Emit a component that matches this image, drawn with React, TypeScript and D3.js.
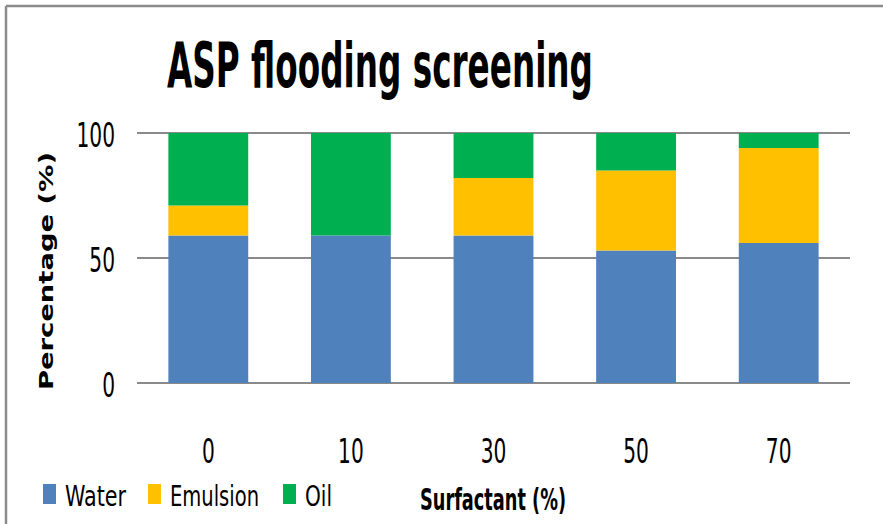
import React from 'react';
import * as d3 from 'd3';

// surfactant concentration categories
const categories = ['0', '10', '30', '50', '70'];
const seriesNames = ['Water', 'Emulsion', 'Oil'];
const water = [59, 59, 59, 53, 56];
const emulsion = [12, 0, 23, 32, 38];
const oil = [29, 41, 18, 15, 6];
const yTicks = [0, 50, 100];
const colors = ['#4F81BD', '#FFC000', '#00B050'];

const W = 883;
const H = 524;
const narrow = '"DejaVu Sans Condensed", "Liberation Sans Narrow", Arial, sans-serif';

// narrow text: squeezed horizontally like the original Calibri
const NText = ({ x, y, sx = 0.68, anchor = 'start', size = 33, weight = 'normal', children }: any) => (
  <text transform={`translate(${x},${y}) scale(${sx},1)`} textAnchor={anchor}
    fontFamily={narrow} fontSize={size} fontWeight={weight} fill="#000">{children}</text>
);

const App = () => {
  const rows = categories.map((c, i) => ({
    cat: c,
    Water: water[i],
    Emulsion: emulsion[i],
    Oil: oil[i],
  }));

  const x = d3.scaleBand()
    .domain(categories)
    .range([137, 850])
    .paddingInner(0.44)
    .paddingOuter(0.22);

  const y = d3.scaleLinear()
    .domain([0, 100])
    .range([383, 133]);

  const stacked = d3.stack().keys(seriesNames)(rows as any);

  // legend layout (x of swatch, text width)
  const legendX = [43, 148, 283];
  const legendW = [61, 89, 27];

  return (
    <svg width={W} height={H} style={{ position: 'absolute', left: 0, top: 0, background: '#fff' }}>
      {/* frame */}
      <line x1={6} x2={W} y1={6} y2={6} stroke="#8c8c8c" strokeWidth={2.5} />
      <line x1={6} x2={6} y1={6} y2={H} stroke="#8c8c8c" strokeWidth={2.5} />

      <text x={167} y={87} fontFamily={narrow} fontWeight="bold" fontSize={62}
        textLength={426} lengthAdjust="spacingAndGlyphs" fill="#000">
        ASP flooding screening
      </text>

      {/* gridlines */}
      {yTicks.map(t => (
        <line key={t} x1={137} x2={850} y1={y(t)} y2={y(t)} stroke="#8a8a8a" strokeWidth={1.8} />
      ))}

      {/* bars */}
      {stacked.map((s, si) => (
        <g key={s.key} fill={colors[si]}>
          {s.map((d, i) => (
            <rect key={i}
              x={x(categories[i])}
              y={y(d[1])}
              width={x.bandwidth()}
              height={y(d[0]) - y(d[1])} />
          ))}
        </g>
      ))}

      {/* y tick labels */}
      {yTicks.map(t => (
        <NText key={t} x={115} y={y(t) + 14} anchor="end">{t}</NText>
      ))}

      {/* x tick labels */}
      {categories.map(c => (
        <NText key={c} x={(x(c) as number) + x.bandwidth() / 2} y={463} anchor="middle">{c}</NText>
      ))}

      <text transform="translate(53,271) rotate(-90)" textAnchor="middle"
        fontFamily='"DejaVu Sans", Verdana, sans-serif' fontWeight="bold" fontSize={19}
        textLength={238} lengthAdjust="spacingAndGlyphs" fill="#000">
        Percentage (%)
      </text>

      {/* legend */}
      {seriesNames.map((n, i) => (
        <g key={n}>
          <rect x={legendX[i]} y={484} width={13} height={20} fill={colors[i]} />
          <text x={legendX[i] + 22} y={506} fontFamily={narrow} fontSize={29}
            textLength={legendW[i]} lengthAdjust="spacingAndGlyphs" fill="#000">{n}</text>
        </g>
      ))}

      <text x={420} y={510} fontFamily={narrow} fontWeight="bold" fontSize={30}
        textLength={146} lengthAdjust="spacingAndGlyphs" fill="#000">
        Surfactant (%)
      </text>
    </svg>
  );
};

export default App;
